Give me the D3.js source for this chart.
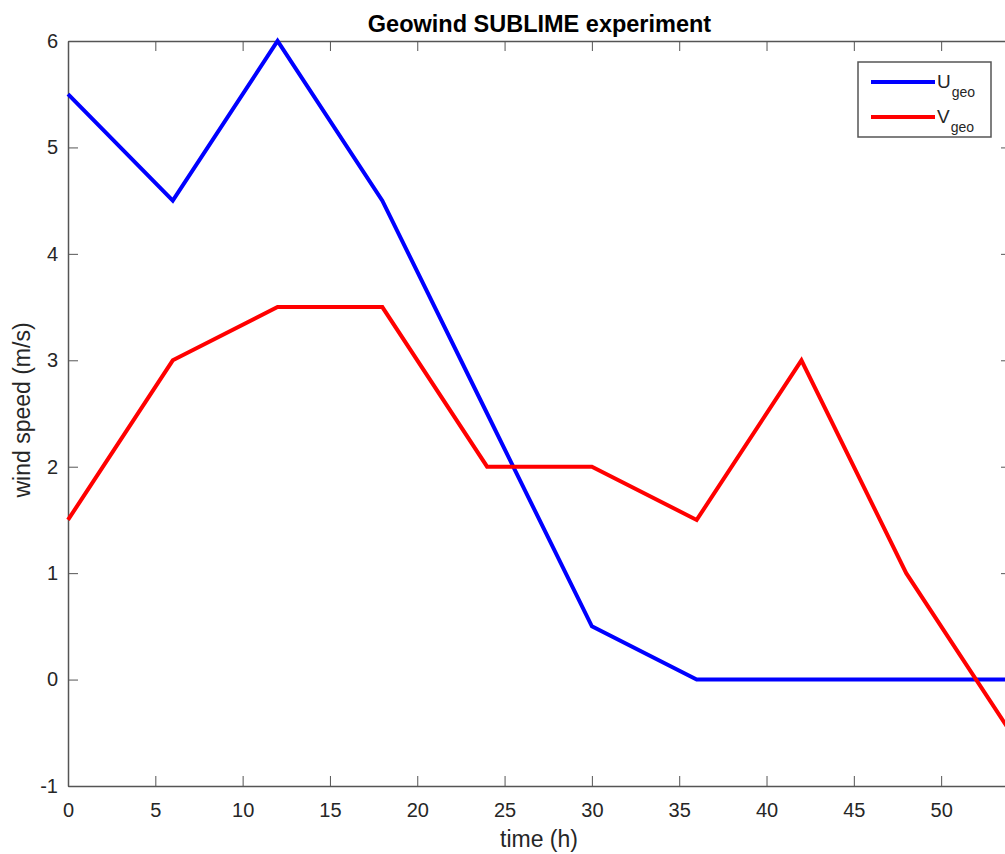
<!DOCTYPE html>
<html>
<head>
<meta charset="utf-8">
<script src="https://cdn.jsdelivr.net/npm/d3@7"></script>
<style>
  body { margin: 0; background: #fff; overflow: hidden; }
  svg { display: block; font-family: "Liberation Sans", Arial, sans-serif; }
  .chart__axis path, .chart__axis line { stroke: #555; }
  .chart__axis text { fill: #262626; font-size: 20px; }
</style>
</head>
<body>
<svg id="chart" width="1005" height="854"></svg>
<script>
// data
var hours = [0, 6, 12, 18, 24, 30, 36, 42, 48, 54]
var uGeo = [5.5, 4.5, 6, 4.5, 2.5, 0.5, 0, 0, 0, 0]
var vGeo = [1.5, 3, 3.5, 3.5, 2, 2, 1.5, 3, 1, -0.5]
var xTicks = [0, 5, 10, 15, 20, 25, 30, 35, 40, 45, 50]
var yTicks = [-1, 0, 1, 2, 3, 4, 5, 6]
var seriesNames = ["U", "V"]
var seriesColors = ["#0000ff", "#ff0000"]

var margin = { top: 41, left: 68 }
var width = 943, height = 745

var svg = d3.select("#chart")
var g = svg.append("g").attr("transform", "translate(" + margin.left + "," + margin.top + ")")

var x = d3.scaleLinear().domain([0, 54]).range([0, width])
var y = d3.scaleLinear().domain([-1, 6]).range([height, 0])
var fmt = function (d) { return String(d) }

// axes, ticks pointing inward like matlab
g.append("g").attr("class", "chart__axis")
  .attr("transform", "translate(0," + height + ")")
  .call(d3.axisBottom(x).tickValues(xTicks).tickSizeInner(-10).tickSizeOuter(0).tickPadding(17).tickFormat(fmt))
g.append("g").attr("class", "chart__axis")
  .call(d3.axisTop(x).tickValues(xTicks).tickSizeInner(-10).tickSizeOuter(0).tickFormat(""))
g.append("g").attr("class", "chart__axis")
  .call(d3.axisLeft(y).tickValues(yTicks).tickSizeInner(-10).tickSizeOuter(0).tickPadding(10).tickFormat(fmt))
g.append("g").attr("class", "chart__axis")
  .attr("transform", "translate(" + width + ",0)")
  .call(d3.axisRight(y).tickValues(yTicks).tickSizeInner(-10).tickSizeOuter(0).tickFormat(""))

g.selectAll(".chart__axis .domain").attr("stroke-width", 1.5)

var line = d3.line()
  .x(function (d, i) { return x(hours[i]) })
  .y(function (d) { return y(d) })

var series = [uGeo, vGeo]
g.selectAll(".chart__line")
  .data(series).enter()
  .append("path")
  .attr("class", "chart__line")
  .attr("fill", "none")
  .attr("stroke", function (d, i) { return seriesColors[i] })
  .attr("stroke-width", 4)
  .attr("d", line)

// title and labels
svg.append("text")
  .attr("x", 539.5).attr("y", 32)
  .attr("text-anchor", "middle")
  .attr("font-weight", "bold").attr("font-size", 23.5).attr("fill", "#000")
  .text("Geowind SUBLIME experiment")

svg.append("text")
  .attr("x", 539).attr("y", 847)
  .attr("text-anchor", "middle")
  .attr("font-size", 23).attr("fill", "#262626")
  .text("time (h)")

svg.append("text")
  .attr("transform", "translate(30,410) rotate(-90)")
  .attr("text-anchor", "middle")
  .attr("font-size", 23).attr("fill", "#262626")
  .text("wind speed (m/s)")

// legend
var legend = svg.append("g").attr("transform", "translate(858,62)")
legend.append("rect")
  .attr("width", 133).attr("height", 75)
  .attr("fill", "#fff").attr("stroke", "#555").attr("stroke-width", 1.5)
var items = legend.selectAll(".chart__legend-item")
  .data(seriesNames).enter()
  .append("g")
  .attr("transform", function (d, i) { return "translate(0," + (20 + i * 35) + ")" })
items.append("line")
  .attr("x1", 13).attr("x2", 77)
  .attr("stroke", function (d, i) { return seriesColors[i] })
  .attr("stroke-width", 4)
var label = items.append("text")
  .attr("x", 79).attr("y", 6)
  .attr("font-size", 19).attr("fill", "#262626")
label.append("tspan").text(function (d) { return d })
label.append("tspan").attr("dy", 9).attr("dx", 1).attr("font-size", 14).text("geo")
</script>
</body>
</html>
